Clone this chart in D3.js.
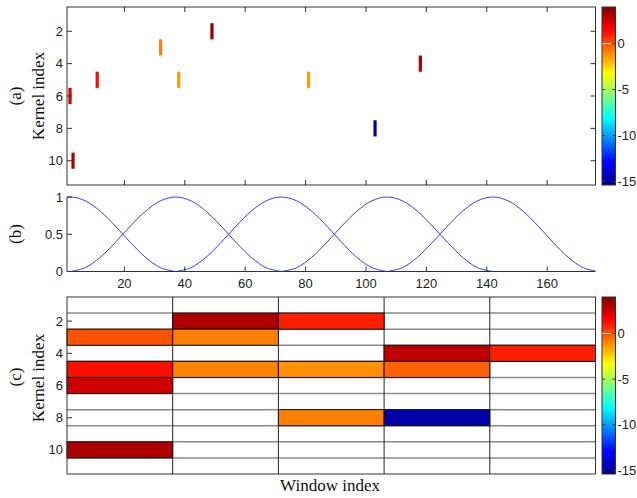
<!DOCTYPE html>
<html>
<meta charset="utf-8">
<head>
    <script src="https://cdn.jsdelivr.net/npm/d3@7/dist/d3.min.js"></script>
    <style>
        body { margin: 0; background: #fff; }
        .tick-label { font-family: "Liberation Sans", Arial, sans-serif; font-size: 13px; fill: #222; }
        .axis-label { font-family: "Liberation Serif", "Times New Roman", serif; font-size: 17px; fill: #111; }
    </style>
</head>
<body>
<div id="center"></div>
<script>
// ---- data ----
// (a) kernel activations: window position, kernel index, value
var markPos    = [2, 3, 11, 32, 38, 49, 81, 103, 118];
var markKernel = [6, 10, 5, 3, 5, 2, 5, 8, 4];
var markValue  = [2.4, 3.1, 1.4, -0.8, -1.4, 3.5, -1.4, -15.2, 3.2];

// (b) window functions: peak positions and one window's shape (offset, height)
var windowCenters = [2, 37, 72, 107, 142];
var profileOffset = [-35, -30, -25, -20, -15, -10, -5, 0, 5, 10, 15, 20, 25, 30, 35];
var profileValue  = [0, 0.05, 0.19, 0.39, 0.61, 0.81, 0.95, 1, 0.95, 0.81, 0.61, 0.39, 0.19, 0.05, 0];

// (c) per-window kernel values: window, kernel, value
var cellWindow = [2, 3, 1, 2, 4, 5, 1, 2, 3, 4, 1, 3, 4, 1];
var cellKernel = [2, 2, 3, 3, 4, 4, 5, 5, 5, 5, 6, 8, 8, 10];
var cellValue  = [3.1, 1.0, 0.0, -0.85, 2.8, 1.0, 1.3, -0.9, -1.15, -0.25, 2.45, -0.85, -14.8, 3.1];

var xTicks = [20, 40, 60, 80, 100, 120, 140, 160];
var kTicks = [2, 4, 6, 8, 10];
var wTicks = [0, 0.5, 1];
var cTicks = [0, -5, -10, -15];
var cMin = -15.4, cMax = 4;

// ---- layout ----
var W = 637, H = 498;
var L = 67, R = 595.5;
var T1 = 7, B1 = 185;
var T2 = 197, B2 = 271.5;
var T3 = 297, B3 = 474;
var CBL = 602, CBR = 615.5;
var axisCol = "#333";

var svg = d3.select("#center").append("svg")
    .attr("width", W).attr("height", H);

// jet colormap
var jetStops = [0, 1/8, 3/8, 5/8, 7/8, 1];
var jetCols  = ["#000090", "#0000ff", "#00ffff", "#ffff00", "#ff0000", "#800000"];
var color = d3.scaleLinear()
    .domain(jetStops.map(function(t) { return cMin + t * (cMax - cMin); }))
    .range(jetCols)
    .interpolate(d3.interpolateRgb)
    .clamp(true);

var x = d3.scaleLinear().domain([1, 176]).range([L, R]);

function ticksX(top, bottom, len, both) {
    xTicks.forEach(function(t) {
        svg.append("line").attr("x1", x(t)).attr("x2", x(t))
            .attr("y1", bottom).attr("y2", bottom - len)
            .attr("stroke", axisCol);
        if (both) {
            svg.append("line").attr("x1", x(t)).attr("x2", x(t))
                .attr("y1", top).attr("y2", top + len)
                .attr("stroke", axisCol);
        }
    });
}

function rotLabel(txt, cx, cy, cls) {
    svg.append("text").attr("class", cls)
        .attr("transform", "translate(" + cx + "," + cy + ") rotate(-90)")
        .attr("text-anchor", "middle")
        .attr("dominant-baseline", "central")
        .text(txt);
}

// ================= (a) =================
var yA = d3.scaleLinear().domain([0.5, 11.5]).range([T1, B1]);

svg.append("clipPath").attr("id", "clipA")
    .append("rect").attr("x", L).attr("y", T1).attr("width", R - L).attr("height", B1 - T1);

svg.append("g").attr("clip-path", "url(#clipA)")
    .selectAll("rect").data(markPos).enter().append("rect")
    .attr("x", function(d) { return x(d) - 1.6; })
    .attr("width", 3.2)
    .attr("y", function(d, i) { return yA(markKernel[i] - 0.5); })
    .attr("height", function(d, i) { return yA(markKernel[i] + 0.5) - yA(markKernel[i] - 0.5); })
    .attr("fill", function(d, i) { return color(markValue[i]); });

ticksX(T1, B1, 5, true);
kTicks.forEach(function(k) {
    svg.append("line").attr("x1", L).attr("x2", L + 5).attr("y1", yA(k)).attr("y2", yA(k)).attr("stroke", axisCol);
    svg.append("line").attr("x1", R).attr("x2", R - 5).attr("y1", yA(k)).attr("y2", yA(k)).attr("stroke", axisCol);
    svg.append("text").attr("class", "tick-label")
        .attr("x", L - 4).attr("y", yA(k)).attr("dy", "0.35em")
        .attr("text-anchor", "end").text(k);
});
svg.append("rect").attr("x", L).attr("y", T1).attr("width", R - L).attr("height", B1 - T1)
    .attr("fill", "none").attr("stroke", axisCol);

rotLabel("(a)", 15.5, 96, "axis-label");
rotLabel("Kernel index", 38.5, 96, "axis-label");

// ================= (b) =================
var yB = d3.scaleLinear().domain([0, 1]).range([B2, T2]);

svg.append("clipPath").attr("id", "clipB")
    .append("rect").attr("x", L).attr("y", T2 - 3).attr("width", R - L).attr("height", B2 - T2 + 6);

var line = d3.line()
    .x(function(d) { return x(d[0]); })
    .y(function(d) { return yB(d[1]); })
    .curve(d3.curveCatmullRom);

svg.append("g").attr("clip-path", "url(#clipB)")
    .selectAll("path").data(windowCenters).enter().append("path")
    .attr("d", function(c) {
        return line(profileOffset.map(function(o, i) { return [c + o, profileValue[i]]; }));
    })
    .attr("fill", "none")
    .attr("stroke", "#3a3aff")
    .attr("stroke-width", 1);

svg.append("line").attr("x1", L).attr("x2", L).attr("y1", T2).attr("y2", B2).attr("stroke", axisCol);
svg.append("line").attr("x1", L).attr("x2", R).attr("y1", B2).attr("y2", B2).attr("stroke", axisCol);
ticksX(T2, B2, 5, false);
xTicks.forEach(function(t) {
    svg.append("text").attr("class", "tick-label")
        .attr("x", x(t)).attr("y", B2 + 16)
        .attr("text-anchor", "middle").text(t);
});
wTicks.forEach(function(v) {
    svg.append("line").attr("x1", L).attr("x2", L + 5).attr("y1", yB(v)).attr("y2", yB(v)).attr("stroke", axisCol);
    svg.append("text").attr("class", "tick-label")
        .attr("x", L - 4).attr("y", yB(v)).attr("dy", "0.35em")
        .attr("text-anchor", "end").text(v);
});
rotLabel("(b)", 15.5, 234, "axis-label");

// ================= (c) =================
var yC = d3.scaleLinear().domain([0.5, 11.5]).range([T3, B3]);
var xC = d3.scaleLinear().domain([0.5, 5.5]).range([L, R]);

// horizontal row lines
d3.range(1, 11).forEach(function(r) {
    svg.append("line").attr("x1", L).attr("x2", R)
        .attr("y1", yC(r + 0.5)).attr("y2", yC(r + 0.5))
        .attr("stroke", "#8a8a8a").attr("stroke-width", 1.5);
});
// vertical window lines
d3.range(1, 5).forEach(function(c) {
    svg.append("line").attr("x1", xC(c + 0.5)).attr("x2", xC(c + 0.5))
        .attr("y1", T3).attr("y2", B3)
        .attr("stroke", "#222");
});

svg.append("g").selectAll("rect").data(cellValue).enter().append("rect")
    .attr("x", function(d, i) { return xC(cellWindow[i] - 0.5); })
    .attr("width", xC(1.5) - xC(0.5))
    .attr("y", function(d, i) { return yC(cellKernel[i] - 0.5); })
    .attr("height", yC(1.5) - yC(0.5))
    .attr("fill", function(d) { return color(d); })
    .attr("stroke", "#111").attr("stroke-width", 1);

kTicks.forEach(function(k) {
    svg.append("line").attr("x1", L).attr("x2", L + 5).attr("y1", yC(k)).attr("y2", yC(k)).attr("stroke", axisCol);
    svg.append("text").attr("class", "tick-label")
        .attr("x", L - 4).attr("y", yC(k)).attr("dy", "0.35em")
        .attr("text-anchor", "end").text(k);
});
svg.append("rect").attr("x", L).attr("y", T3).attr("width", R - L).attr("height", B3 - T3)
    .attr("fill", "none").attr("stroke", axisCol);

rotLabel("(c)", 15.5, 377, "axis-label");
rotLabel("Kernel index", 38.5, 378, "axis-label");
svg.append("text").attr("class", "axis-label")
    .attr("x", 330).attr("y", 491).attr("text-anchor", "middle").text("Window index");

// ================= colorbars =================
var grad = svg.append("defs").append("linearGradient").attr("id", "jet")
    .attr("x1", 0).attr("y1", 1).attr("x2", 0).attr("y2", 0);
jetStops.forEach(function(t, i) {
    grad.append("stop").attr("offset", t).attr("stop-color", jetCols[i]);
});

function colorbar(top, bottom) {
    var yc = d3.scaleLinear().domain([cMin, cMax]).range([bottom, top]);
    svg.append("rect").attr("x", CBL).attr("y", top).attr("width", CBR - CBL).attr("height", bottom - top)
        .attr("fill", "url(#jet)").attr("stroke", axisCol);
    cTicks.forEach(function(v) {
        var yy = yc(v);
        var tc = v === 0 ? "#fff" : axisCol;
        var tl = v === 0 ? 9 : 3;
        svg.append("line").attr("x1", CBL + 0.5).attr("x2", CBL + tl).attr("y1", yy).attr("y2", yy).attr("stroke", tc);
        svg.append("line").attr("x1", CBR).attr("x2", CBR - 3).attr("y1", yy).attr("y2", yy).attr("stroke", axisCol);
        svg.append("text").attr("class", "tick-label")
            .attr("x", CBR + 2).attr("y", yy).attr("dy", "0.35em")
            .text(v);
    });
}
colorbar(T1, B1);
colorbar(T3, B3);
</script>
</body>
</html>
